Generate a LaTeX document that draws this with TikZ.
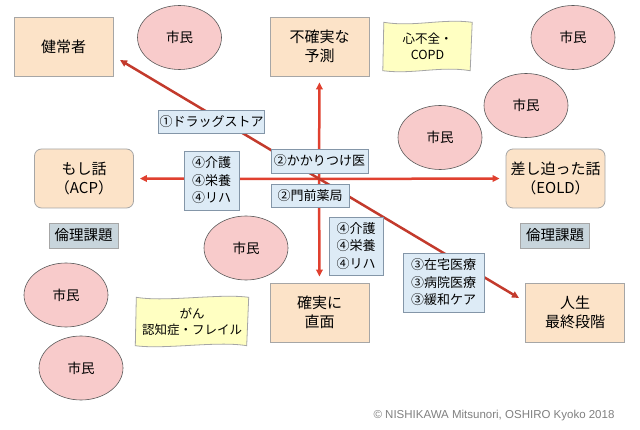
\documentclass[tikz,border=0pt]{standalone}
\usepackage{fontspec}
\setmainfont{Noto Sans CJK JP}
\newfontfamily\latinfont{Liberation Sans}
\usetikzlibrary{shapes.geometric,arrows.meta,backgrounds}

\definecolor{stagefill}{HTML}{FCE3C8}
\definecolor{stageline}{HTML}{A6A6A6}
\definecolor{citizenfill}{HTML}{F8CBCB}
\definecolor{citizenline}{HTML}{595959}
\definecolor{tagfill}{HTML}{DDEBF6}
\definecolor{tagline}{HTML}{8496A8}
\definecolor{ethicsfill}{HTML}{C8D5DC}
\definecolor{notefill}{HTML}{FFFFC2}
\definecolor{arrowred}{HTML}{E0402F}
\definecolor{diagred}{HTML}{C33A2C}

\newcommand{\wavynote}[1]{%
	\begin{pgfonlayer}{background}
		\draw[noteline] ([xshift=1pt]#1.north west) .. controls +(30,5) and +(-30,-4) .. (#1.north east)
			-- ([xshift=-2pt]#1.south east) .. controls +(-30,-5) and +(30,4) .. (#1.south west) -- cycle;
	\end{pgfonlayer}}

\begin{document}
\begin{tikzpicture}[
			x=1pt, y=-1pt,
			stagebox/.style={draw=stageline, fill=stagefill, line width=0.8pt, minimum width=99pt, minimum height=59pt, align=center, font=\fontsize{15}{19}\selectfont},
			talkbox/.style={stagebox, rounded corners=7pt},
			citizen/.style={ellipse, draw=citizenline, fill=citizenfill, line width=0.6pt, minimum width=84pt, minimum height=64pt, font=\fontsize{13.5}{16}\selectfont},
			tagbox/.style={draw=tagline, fill=tagfill, line width=0.8pt, inner sep=1pt, align=left, font=\fontsize{13}{17.5}\selectfont},
			ethics/.style={draw=stageline, fill=ethicsfill, line width=0.8pt, minimum width=69pt, minimum height=25pt, inner sep=1pt, font=\fontsize{14.5}{17}\selectfont},
			notebox/.style={minimum width=#1, minimum height=48pt, align=center, font=\fontsize{12.5}{16.5}\selectfont},
			noteline/.style={draw=stageline, fill=notefill, line width=0.8pt},
			mainarrow/.style={draw=arrowred, line width=2.5pt, -{Triangle[length=7pt,width=6.5pt]}, shorten >=6pt},
			diagarrow/.style={draw=diagred, line width=2.5pt, {Triangle[length=7pt,width=6.5pt]}-{Triangle[length=7pt,width=6.5pt]}},
			credit/.style={text=gray, font=\latinfont\fontsize{11.5}{14}\selectfont}
		]
		\begin{pgfonlayer}{background}
			\fill[white] (0,0) rectangle (640,430);
		\end{pgfonlayer}
		\useasboundingbox (0,0) rectangle (640,430);

		\node[stagebox] (healthy) at (63.5,46.5) {健常者};
		\node[stagebox] (uncertain) at (319.5,46.5) {不確実な\\予測};
		\node[talkbox] (acp) at (84,178.5) {もし話\\（ACP）};
		\node[talkbox] (eold) at (555.5,178.5) {差し迫った話\\（EOLD）};
		\node[stagebox] (certain) at (319.5,312.5) {確実に\\直面};
		\node[stagebox] (final) at (575,312.5) {人生\\最終段階};

		\node[citizen] (citizenA) at (179.5,37.5) {市民};
		\node[citizen] (citizenB) at (573,37.5) {市民};
		\node[citizen] (citizenC) at (526,105.5) {市民};
		\node[citizen] (citizenD) at (440,137.5) {市民};
		\node[citizen] (citizenE) at (246,248) {市民};
		\node[citizen] (citizenF) at (66,295) {市民};
		\node[citizen] (citizenG) at (81,368) {市民};

		\node[notebox=89pt] (heart) at (427.5,46.5) {心不全・\\COPD};
		\wavynote{heart}
		\node[notebox=113pt] (cancer) at (192,321.5) {がん\\認知症・フレイル};
		\wavynote{cancer}

		\node[ethics] (ethicsL) at (83.5,235.5) {倫理課題};
		\node[ethics] (ethicsR) at (555,235.5) {倫理課題};

		\coordinate (hub) at (319,179);
		\coordinate (diagtop) at (120,60);
		\coordinate (diagend) at (519,298);
		\draw[mainarrow] (hub) -- (uncertain.south);
		\draw[mainarrow] (hub) -- (certain.north);
		\draw[mainarrow] (hub) -- (acp.east);
		\draw[mainarrow] (hub) -- (eold.west);
		\draw[diagarrow] (diagtop) -- (diagend);

		\node[tagbox, minimum width=97pt, minimum height=23pt] (drug) at (211.5,121.5) {①ドラッグストア};
		\node[tagbox, minimum width=55pt, minimum height=59pt] (careL) at (211.5,180.5) {④介護\\④栄養\\④リハ};
		\node[tagbox, minimum width=97pt, minimum height=24pt] (family) at (319.5,161) {②かかりつけ医};
		\node[tagbox, minimum width=78pt, minimum height=23pt] (pharmacy) at (310,195.5) {②門前薬局};
		\node[tagbox, minimum width=54pt, minimum height=58pt] (careR) at (356,246) {④介護\\④栄養\\④リハ};
		\node[tagbox, minimum width=81pt, minimum height=59pt] (medical) at (443.5,282.5) {③在宅医療\\③病院医療\\③緩和ケア};

		\node[credit] (copyright) at (494,416) {© NISHIKAWA Mitsunori, OSHIRO Kyoko 2018};
\end{tikzpicture}
\end{document}
